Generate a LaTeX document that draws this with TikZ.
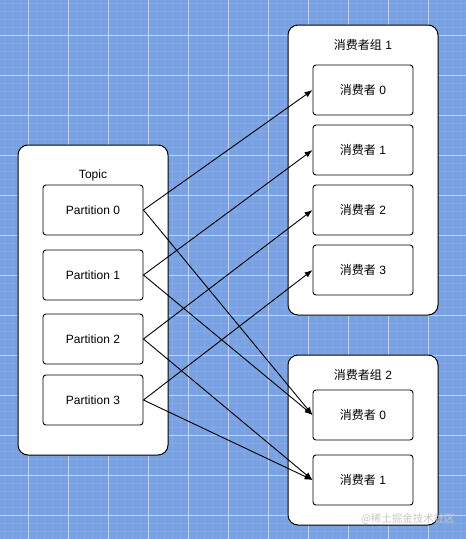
\documentclass[tikz,border=0pt]{standalone}
\usepackage{fontspec}
\setmainfont{Liberation Sans}
\newfontfamily\cjk{Noto Sans CJK SC}
\usetikzlibrary{arrows.meta}
\definecolor{bgblue}{RGB}{122,162,226}
\definecolor{minorline}{RGB}{131,169,230}
\definecolor{majorline}{RGB}{190,210,243}
\begin{document}
\begin{tikzpicture}[x=1pt,y=-1pt,
  container/.style={draw=black, fill=white, line width=1pt, rounded corners=10pt, minimum width=150pt, inner sep=0pt},
  box/.style={draw=black, fill=white, line width=0.9pt, rounded corners=3pt, minimum width=100pt, minimum height=50pt, inner sep=0pt, font=\fontsize{12}{14}\selectfont},
  lbl/.style={inner sep=0pt, font=\fontsize{12}{14}\selectfont},
  link/.style={line width=0.9pt, -{Latex[length=8pt,width=6pt]}},
  minorg/.style={draw=minorline, line width=0.7pt},
  majorg/.style={draw=majorline, line width=0.7pt}
]
\useasboundingbox (0,0) rectangle (466,539);
\fill[bgblue] (0,0) rectangle (466,539);
\foreach \x in {4,12,...,466} \draw[minorg] (\x,0) -- (\x,539);
\foreach \y in {3,11,...,539} \draw[minorg] (0,\y) -- (466,\y);
\foreach \x in {28,68,...,466} \draw[majorg] (\x,0) -- (\x,539);
\foreach \y in {35,75,...,539} \draw[majorg] (0,\y) -- (466,\y);

% containers
\node[container, minimum height=310pt] (topic) at (93,300) {};
\node[container, minimum height=290pt] (grp1) at (363,170) {};
\node[container, minimum height=170pt] (grp2) at (363,440) {};

\node[lbl] (topiclbl) at (93,175) {Topic};
\node[lbl] (grp1lbl) at (363,45) {{\cjk 消费者组} 1};
\node[lbl] (grp2lbl) at (363,375) {{\cjk 消费者组} 2};

% partitions
\node[box] (p0) at (93,210) {Partition 0};
\node[box] (p1) at (93,275) {Partition 1};
\node[box] (p2) at (93,339) {Partition 2};
\node[box] (p3) at (93,400) {Partition 3};

% consumers group 1
\node[box] (a0) at (363,90) {{\cjk 消费者} 0};
\node[box] (a1) at (363,150) {{\cjk 消费者} 1};
\node[box] (a2) at (363,210) {{\cjk 消费者} 2};
\node[box] (a3) at (363,270) {{\cjk 消费者} 3};

% consumers group 2
\node[box] (b0) at (363,415) {{\cjk 消费者} 0};
\node[box] (b1) at (363,480) {{\cjk 消费者} 1};

% links
\draw[link] (p0.east) -- (a0.west);
\draw[link] (p1.east) -- (a1.west);
\draw[link] (p2.east) -- (a2.west);
\draw[link] (p3.east) -- (a3.west);
\draw[link] (p0.east) -- (b0.west);
\draw[link] (p1.east) -- (b0.west);
\draw[link] (p2.east) -- (b1.west);
\draw[link] (p3.east) -- (b1.west);

% watermark
\node[inner sep=0pt, text=black!22, font=\cjk\fontsize{10.5}{12}\selectfont] (wm) at (408,519) {@稀土掘金技术社区};
\end{tikzpicture}
\end{document}
